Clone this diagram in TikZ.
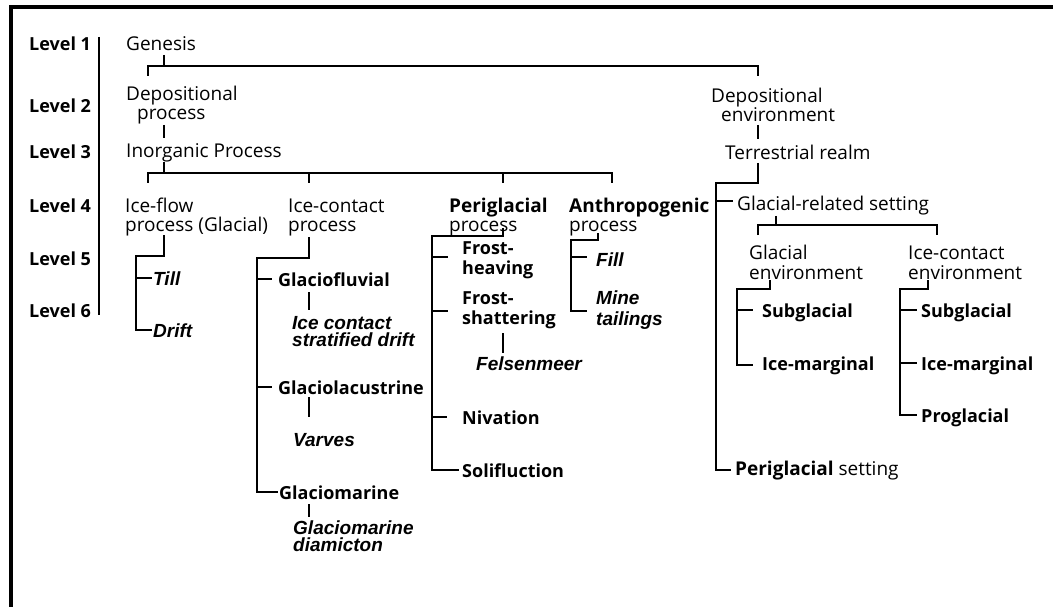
\documentclass[tikz,border=0pt]{standalone}
\usepackage{fontspec}
\newfontfamily\cfont{Open Sans}
\newfontfamily\afont{Liberation Sans}
\begin{document}
\begin{tikzpicture}[x=1pt,y=-1pt,
  reg/.style={font=\cfont\fontsize{19}{19.5}\selectfont, anchor=base west, inner sep=0pt, align=left},
  bld/.style={font=\cfont\bfseries\fontsize{18}{20}\selectfont, anchor=base west, inner sep=0pt, align=left},
  bit/.style={font=\afont\bfseries\itshape\fontsize{19}{16.5}\selectfont, anchor=base west, inner sep=0pt, align=left},
  conn/.style={line width=2pt, line join=miter},
  frame/.style={line width=4pt, line join=miter}]
\useasboundingbox (0,0) rectangle (1053,607);
% frame
\draw[frame] (11,607) -- (11,7) -- (1053,7);
% levels
\node[bld] (l1) at (29,51) {Level 1};
\node[bld] (l2) at (29,113) {Level 2};
\node[bld] (l3) at (29,159) {Level 3};
\node[bld] (l4) at (29,213) {Level 4};
\node[bld] (l5) at (29,265) {Level 5};
\node[bld] (l6) at (29,317) {Level 6};
\draw[conn] (99,37) -- (99,315);
% left tree (multi-line nodes: anchor at baseline of last line)
\node[reg] (gen) at (126,51) {Genesis};
\node[reg] (dp) at (126,120) {Depositional\\\hspace{11pt}process};
\node[reg] (ip) at (126,158) {Inorganic Process};
\node[reg] (ifp) at (125,232) {Ice-flow\\[0.5pt]process (Glacial)};
\node[reg] (icp) at (288,232) {Ice-contact\\[0.5pt]process};
\node[reg] (pgp) at (449,232) {\bfseries Periglacial\\\mdseries process};
\node[reg] (anp) at (569,232) {\bfseries Anthropogenic\\\mdseries process};
\node[bit] (till) at (153,285) {Till};
\node[bit] (drift) at (153,337) {Drift};
\node[bld] (gfl) at (278,286) {Glaciofluvial};
\node[bit] (icsd) at (292,346) {Ice contact\\stratified drift};
\node[bld] (glc) at (278,394) {Glaciolacustrine};
\node[bit] (varv) at (293,446) {Varves};
\node[bld] (gm) at (279,499) {Glaciomarine};
\node[bit] (gmd) at (293,551) {Glaciomarine\\diamicton};
\node[bld] (fh) at (462,274) {Frost-\\heaving};
\node[bld] (fs) at (462,324) {Frost-\\shattering};
\node[bit] (fels) at (476,370) {Felsenmeer};
\node[bld] (niv) at (462,424) {Nivation};
\node[bld] (sol) at (462,477) {Solifluction};
\node[bit] (fill) at (596,266) {Fill};
\node[bit] (mine) at (596,325) {Mine\\[4.5pt]tailings};
% right tree
\node[reg] (de) at (711,122) {Depositional\\\hspace{10pt}environment};
\node[reg] (tr) at (725,160) {Terrestrial realm};
\node[reg] (grs) at (737,211) {Glacial-related setting};
\node[reg] (ge) at (749,279) {Glacial\\environment};
\node[reg] (ice) at (908,279) {Ice-contact\\environment};
\node[bld] (sg1) at (762,317) {Subglacial};
\node[bld] (im1) at (762,370) {Ice-marginal};
\node[bld] (sg2) at (921,317) {Subglacial};
\node[bld] (im2) at (921,370) {Ice-marginal};
\node[bld] (pg) at (921,422) {Proglacial};
\node[reg] (pgs) at (735,475) {\textbf{Periglacial} setting};
% connectors
\draw[conn] (164,55) -- (164,66);
\draw[conn] (148,76) -- (148,66) -- (758,66) -- (758,76);
\draw[conn] (164,125) -- (164,138);
\draw[conn] (164,162) -- (164,173);
\draw[conn] (148,183) -- (148,173) -- (612,173) -- (612,183);
\draw[conn] (309,173) -- (309,183);
\draw[conn] (503,173) -- (503,183);
% ice-flow
\draw[conn] (164,235) -- (164,256) -- (136,256) -- (136,330) -- (152,330);
\draw[conn] (136,278) -- (152,278);
% ice-contact
\draw[conn] (309,237) -- (309,258) -- (257,258) -- (257,492) -- (278,492);
\draw[conn] (257,279) -- (272,279);
\draw[conn] (257,387) -- (272,387);
\draw[conn] (309,292) -- (309,310);
\draw[conn] (309,397) -- (309,417);
\draw[conn] (309,504) -- (309,517);
% periglacial
\draw[conn] (503,228) -- (503,236) -- (432,236) -- (432,470) -- (459,470);
\draw[conn] (432,257) -- (448,257);
\draw[conn] (432,311) -- (448,311);
\draw[conn] (432,417) -- (447,417);
\draw[conn] (503,333) -- (503,353);
% anthropogenic
\draw[conn] (598,233) -- (598,240) -- (571,240) -- (571,311) -- (587,311);
\draw[conn] (571,257) -- (587,257);
% right
\draw[conn] (758,125) -- (758,139);
\draw[conn] (758,163) -- (758,183) -- (716,183) -- (716,470) -- (731,470);
\draw[conn] (716,201) -- (733,201);
\draw[conn] (776,216) -- (776,225);
\draw[conn] (758,235) -- (758,225) -- (937,225) -- (937,235);
\draw[conn] (770,280) -- (770,289) -- (737,289) -- (737,365) -- (753,365);
\draw[conn] (737,310) -- (753,310);
\draw[conn] (928,280) -- (928,289) -- (900,289) -- (900,415) -- (917,415);
\draw[conn] (900,310) -- (917,310);
\draw[conn] (900,363) -- (917,363);
\end{tikzpicture}
\end{document}
